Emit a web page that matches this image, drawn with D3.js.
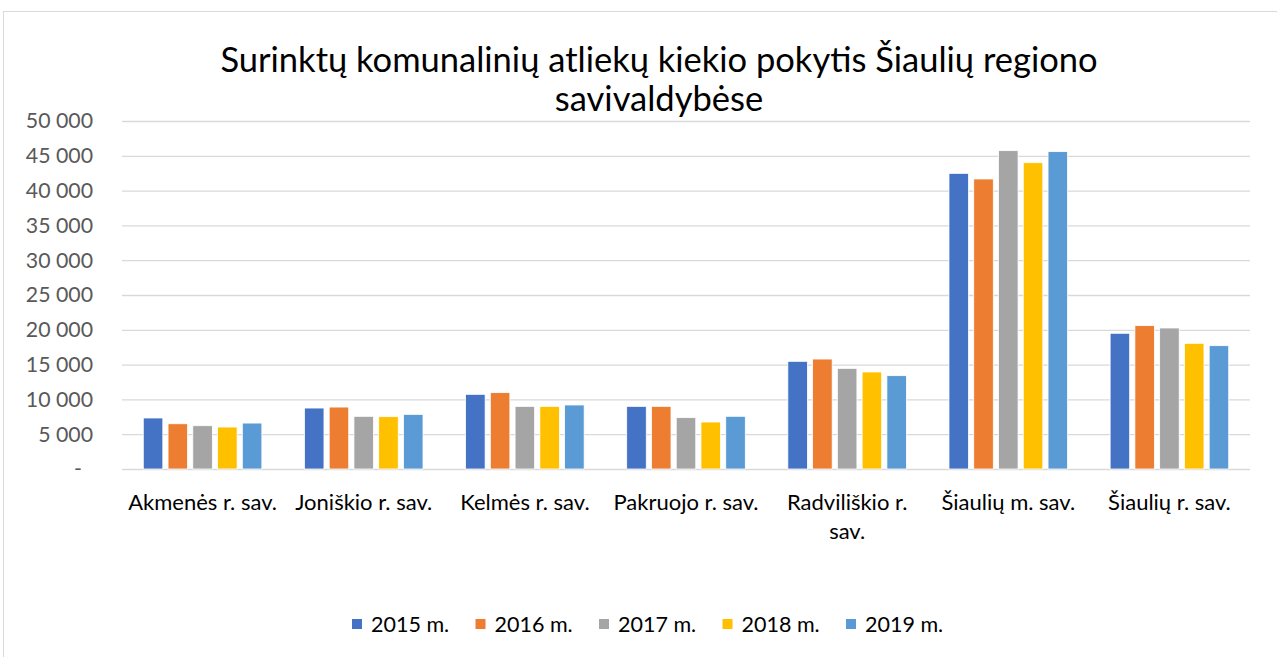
<!DOCTYPE html>
<html>
<head>
<meta charset="utf-8">
<script src="https://cdn.jsdelivr.net/npm/d3@7"></script>
<style>
  body { margin: 0; background: #fff; }
  svg { display: block; font-family: Lato, "Open Sans", sans-serif; }
</style>
</head>
<body>
<div id="chart"></div>
<script>
const categories = ["Akmenės r. sav.", "Joniškio r. sav.", "Kelmės r. sav.", "Pakruojo r. sav.",
  "Radviliškio r. sav.", "Šiaulių m. sav.", "Šiaulių r. sav."];
const years = ["2015 m.", "2016 m.", "2017 m.", "2018 m.", "2019 m."];
const v2015 = [7330, 8760, 10730, 9000, 15470, 42480, 19500];
const v2016 = [6500, 8900, 10970, 9000, 15800, 41670, 20600];
const v2017 = [6220, 7570, 9000, 7380, 14460, 45740, 20260];
const v2018 = [6030, 7520, 9000, 6750, 13940, 44010, 18060];
const v2019 = [6600, 7850, 9200, 7570, 13410, 45600, 17720];
const yTicks = [0, 5000, 10000, 15000, 20000, 25000, 30000, 35000, 40000, 45000, 50000];
const colors = ["#4472C4", "#ED7D31", "#A5A5A5", "#FFC000", "#5B9BD5"];

const series = [v2015, v2016, v2017, v2018, v2019];
const W = 1277, H = 657;
const margin = {top: 121, right: 27, bottom: 188, left: 122};
const width = W - margin.left - margin.right;
const height = H - margin.top - margin.bottom;

const svg = d3.select("#chart").append("svg")
  .attr("width", W).attr("height", H);

// chart frame
svg.append("rect")
  .attr("x", 3.5).attr("y", 11.5)
  .attr("width", W + 10).attr("height", H + 10)
  .attr("fill", "none").attr("stroke", "#d9d9d9");

// title
const title = svg.append("text")
  .attr("text-anchor", "middle")
  .attr("font-size", 34.5)
  .attr("fill", "#000");
title.append("tspan").attr("x", 659).attr("y", 72)
  .text("Surinktų komunalinių atliekų kiekio pokytis Šiaulių regiono");
title.append("tspan").attr("x", 659).attr("y", 111)
  .text("savivaldybėse");

const g = svg.append("g")
  .attr("transform", `translate(${margin.left},${margin.top})`);

const x0 = d3.scaleBand()
  .domain(categories)
  .range([0, width])
  .paddingInner(0.264)
  .paddingOuter(0.132);

const x1 = d3.scaleBand()
  .domain(years)
  .range([0, x0.bandwidth()])
  .paddingInner(0.21)
  .paddingOuter(0);

const y = d3.scaleLinear()
  .domain([0, 50000])
  .range([height, 0]);

const fmt = d => d === 0 ? "-" : d3.format(",")(d).replace(/,/g, " ");

// y axis with gridlines
const yAxis = g.append("g")
  .call(d3.axisLeft(y).tickValues(yTicks).tickSize(-width).tickFormat(fmt));
yAxis.select(".domain").remove();
yAxis.selectAll(".tick line").attr("stroke", "#d9d9d9").attr("stroke-width", 1.3);
yAxis.selectAll(".tick text")
  .attr("x", -29)
  .attr("font-size", 21.3)
  .attr("font-family", "Lato, sans-serif")
  .attr("fill", "#595959");
yAxis.selectAll(".tick text").filter(d => d === 0).attr("x", -40);

// bars
const groups = g.selectAll(".group")
  .data(categories)
  .enter().append("g")
  .attr("transform", d => `translate(${x0(d)},0)`);

groups.selectAll("rect")
  .data((d, i) => years.map((yr, j) => ({year: yr, value: series[j][i], color: colors[j]})))
  .enter().append("rect")
  .attr("x", d => x1(d.year))
  .attr("y", d => y(d.value))
  .attr("width", x1.bandwidth())
  .attr("height", d => height - y(d.value))
  .attr("fill", d => d.color)
  .attr("stroke", "#fff")
  .attr("stroke-width", 0.8);

// x labels (wrap)
const xAxis = g.append("g")
  .attr("transform", `translate(0,${height})`)
  .call(d3.axisBottom(x0).tickSize(0).tickPadding(0));
xAxis.select(".domain").remove();
xAxis.selectAll(".tick text").each(function(d) {
  const t = d3.select(this);
  t.text(null).attr("y", 0).attr("dy", null)
    .attr("font-size", 22).attr("font-family", "Lato, sans-serif").attr("fill", "#000");
  const lines = d === "Radviliškio r. sav." ? ["Radviliškio r.", "sav."] : [d];
  lines.forEach((ln, k) => {
    t.append("tspan").attr("x", 0).attr("y", 41 + k * 29).text(ln);
  });
});

// legend
const legend = svg.append("g").attr("transform", "translate(352,619)");
years.forEach((yr, j) => {
  const item = legend.append("g").attr("transform", `translate(${j * 123.5},0)`);
  item.append("rect").attr("width", 10).attr("height", 10).attr("fill", colors[j]);
  item.append("text").attr("x", 19).attr("y", 5).attr("dy", "0.36em")
    .attr("font-size", 21.5).attr("fill", "#000").text(yr);
});
</script>
</body>
</html>
